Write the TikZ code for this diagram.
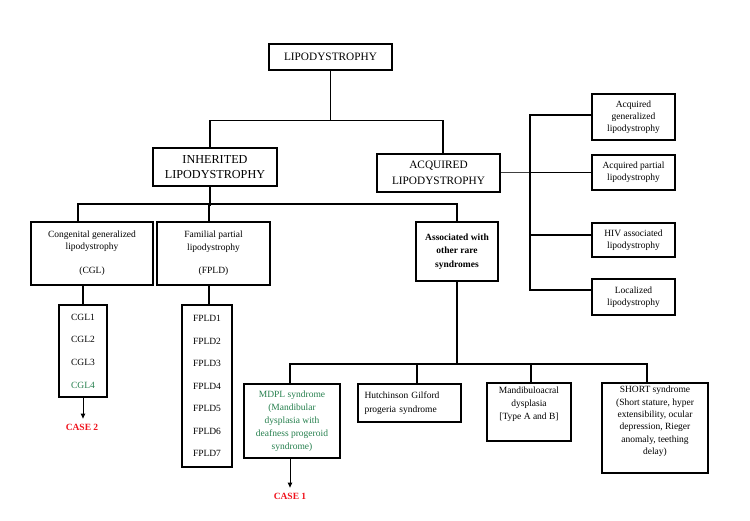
\documentclass[tikz,border=0pt]{standalone}
\usepackage{fontspec}
\setmainfont{Liberation Serif}
\usetikzlibrary{arrows.meta}
\definecolor{dgreen}{RGB}{38,128,78}
\definecolor{cred}{RGB}{240,20,30}
\begin{document}
\begin{tikzpicture}[x=1pt,y=-1pt,
  box/.style={draw, line width=2.1pt, inner sep=0pt, align=center, font=\fontsize{9.5}{12}\selectfont},
  bigbox/.style={box, font=\fontsize{11.3}{16}\selectfont},
  conn/.style={line width=1.7pt},
  thinconn/.style={line width=1pt, black!75},
  arr/.style={line width=0.9pt, -{Triangle[length=5pt,width=4.5pt]}, shorten >=3pt},
  case/.style={font=\fontsize{9.5}{12}\selectfont\bfseries, text=cred, inner sep=2pt}]
\fill[white] (0,0) rectangle (750,521);
\useasboundingbox (0,0) rectangle (750,521);

% top level
\node[bigbox, minimum width=123pt, minimum height=26pt] (lipo) at (330.5,57) {LIPODYSTROPHY};
\node[bigbox, minimum width=124pt, minimum height=38pt, font=\fontsize{12.2}{15}\selectfont] (inh) at (215,167) {INHERITED\\LIPODYSTROPHY};
\node[bigbox, minimum width=123pt, minimum height=38pt] (acq) at (438.5,173) {ACQUIRED\\LIPODYSTROPHY};

% acquired subtypes
\node[box, minimum width=83pt, minimum height=46pt] (ag) at (633.5,117) {Acquired\\generalized\\lipodystrophy};
\node[box, minimum width=83pt, minimum height=35pt] (ap) at (633.5,172.5) {Acquired partial\\lipodystrophy};
\node[box, minimum width=83pt, minimum height=34pt] (hiv) at (633.5,240) {HIV associated\\lipodystrophy};
\node[box, minimum width=83pt, minimum height=36pt] (loc) at (633.5,297) {Localized\\lipodystrophy};

% inherited subtypes
\node[box, minimum width=122pt, minimum height=63pt] (cgl) at (92,253.5) {Congenital generalized\\lipodystrophy\\[12pt](CGL)};
\node[box, minimum width=113pt, minimum height=63pt, font=\fontsize{9.5}{13}\selectfont] (fpld) at (213.5,253.5) {Familial partial\\lipodystrophy\\[10pt](FPLD)};
\node[box, minimum width=82pt, minimum height=59pt, font=\fontsize{9.5}{13.5}\selectfont\bfseries] (assoc) at (457,251.5) {Associated with\\other rare\\syndromes};

% lists
\node[box, minimum width=48pt, minimum height=92pt, font=\fontsize{9.5}{22.7}\selectfont] (cglsub) at (83,351) {CGL1\\CGL2\\CGL3\\\textcolor{dgreen}{CGL4}};
\node[box, minimum width=50pt, minimum height=162pt, font=\fontsize{9.5}{22.5}\selectfont] (fpldsub) at (207,386) {FPLD1\\FPLD2\\FPLD3\\FPLD4\\FPLD5\\FPLD6\\FPLD7};

% rare syndromes
\node[box, minimum width=96pt, minimum height=74pt, font=\fontsize{9.5}{13}\selectfont, text=dgreen] (mdpl) at (292,421) {MDPL syndrome\\(Mandibular\\dysplasia with\\deafness progeroid\\syndrome)};
\node[box, minimum width=103pt, minimum height=38pt, font=\fontsize{9.5}{13.5}\selectfont, text width=90pt, align=left] (hut) at (409.5,403) {Hutchinson Gilford\\progeria syndrome};
\node[box, minimum width=84pt, minimum height=58pt, font=\fontsize{9.5}{13}\selectfont] (mand) at (529,412) {Mandibuloacral\\dysplasia\\{}[Type A and B]\\[4pt]};
\node[box, minimum width=106pt, minimum height=90pt, font=\fontsize{9.5}{12.3}\selectfont] (short) at (655,428) {SHORT syndrome\\(Short stature, hyper\\extensibility, ocular\\depression, Rieger\\anomaly, teething\\delay)\\[3pt]};

% case labels
\node[case] (case2) at (82,427) {CASE 2};
\node[case] (case1) at (290,496) {CASE 1};

% connectors: top
\coordinate (rbus) at (530,0);
\draw[conn] (lipo.south) -- ++(0,49.5) coordinate (b1);
\draw[conn] ([xshift=-5pt]inh.north) |- (b1) -| ([xshift=4.5pt]acq.north);

% right bus
\draw[thinconn] (acq.east) -- (acq.east -| rbus);
\draw[conn] ([yshift=2pt]ag.west) -- ([yshift=2pt]ag.west -| rbus) -- ([yshift=7pt]loc.west -| rbus) -- ([yshift=7pt]loc.west);
\draw[conn] (ap.west) -- (ap.west -| rbus);
\draw[conn] ([yshift=5pt]hiv.west) -- ([yshift=5pt]hiv.west -| rbus);

% inherited bus
\draw[conn] ([xshift=-5pt]inh.south) -- ++(0,19);
\draw[conn] ([xshift=-14pt]cgl.north) -- ++(0,-17) -| (assoc.north);
\draw[conn] ([xshift=-4.5pt]fpld.north) -- ++(0,-17);

% lists
\draw[conn] (cglsub.north) -- (cglsub.north |- cgl.south);
\draw[conn] ([xshift=2pt]fpldsub.north) -- ([xshift=2pt]fpldsub.north |- fpld.south);

% bottom bus
\draw[conn] (assoc.south) -- ++(0,82) coordinate (bb);
\draw[conn] ([xshift=-2pt]mdpl.north) -- ([xshift=-2pt]mdpl.north |- bb) -- ([xshift=-8pt]short.north |- bb) -- ([xshift=-8pt]short.north);
\draw[conn] ([xshift=7.5pt]hut.north) -- ([xshift=7.5pt]hut.north |- bb);
\draw[conn] ([xshift=2pt]mand.north) -- ([xshift=2pt]mand.north |- bb);

% arrows
\draw[arr] (cglsub.south) -- (cglsub.south |- case2.north);
\draw[arr] ([xshift=-2pt]mdpl.south) -- ([xshift=-2pt]mdpl.south |- case1.north);
\end{tikzpicture}
\end{document}
